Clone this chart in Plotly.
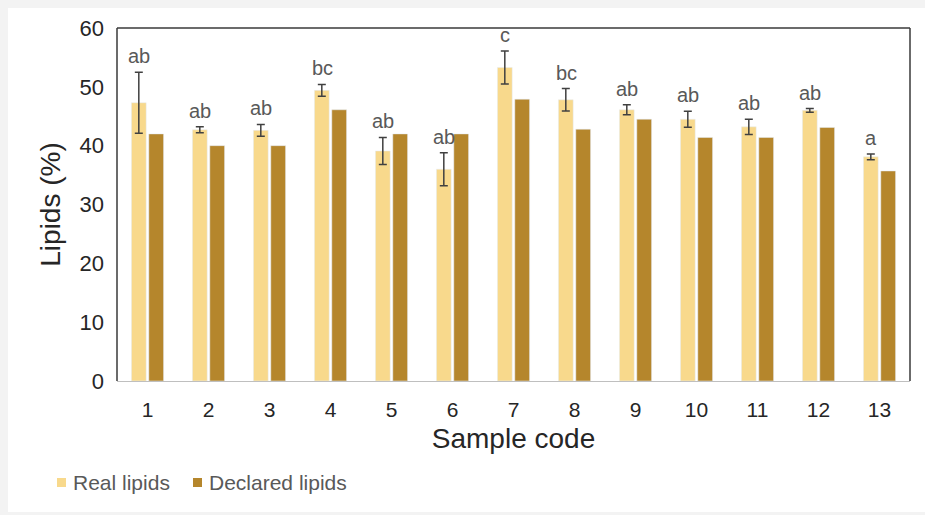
import plotly.graph_objects as go

# Lipid content per sample: measured (mean ± SD) vs. value declared on the label
samples = ["1", "2", "3", "4", "5", "6", "7", "8", "9", "10", "11", "12", "13"]
real_lipids = [47.3, 42.7, 42.6, 49.4, 39.1, 36.0, 53.3, 47.8, 46.1, 44.5, 43.2, 46.0, 38.1]
real_sd = [5.2, 0.5, 1.0, 1.0, 2.3, 2.8, 2.8, 1.9, 0.85, 1.35, 1.3, 0.3, 0.5]
declared_lipids = [42.0, 40.0, 40.0, 46.1, 42.0, 42.0, 47.9, 42.8, 44.5, 41.4, 41.4, 43.1, 35.7]
groups = ["ab", "ab", "ab", "bc", "ab", "ab", "c", "bc", "ab", "ab", "ab", "ab", "a"]
y_ticks = [0, 10, 20, 30, 40, 50, 60]

FONT = "Liberation Sans, Arial, sans-serif"
LIGHT = "#F8D98C"
DARK = "#B5862C"
GREY_TXT = "#595959"
FRAME = "#3a3a3a"

# plot area in pixels (used to place the legend and outer panel in paper units)
W, H = 925, 515
ML, MR, MT, MB = 117, 15, 28, 134
PW, PH = W - ML - MR, H - MT - MB


def px_x(px):
    return (px - ML) / PW


def px_y(py):
    return (H - MB - py) / PH


fig = go.Figure()
fig.add_trace(go.Bar(
    name="Real lipids", x=samples, y=real_lipids, marker_color=LIGHT,
    error_y=dict(type="data", array=real_sd, visible=True,
                 color="#404040", thickness=1.5, width=4),
))
fig.add_trace(go.Bar(
    name="Declared lipids", x=samples, y=declared_lipids, marker_color=DARK,
))

# significance letters above each measured bar
for i, (v, e, g) in enumerate(zip(real_lipids, real_sd, groups)):
    fig.add_annotation(
        x=i, y=v + e, text=g, showarrow=False, xref="x", yref="y",
        xshift=-8.5, yshift=3, yanchor="bottom",
        font=dict(family=FONT, size=20, color=GREY_TXT),
    )

# white panel with a faint grey margin round the figure
fig.add_shape(type="rect", xref="paper", yref="paper", layer="below",
              x0=px_x(8), x1=px_x(W + 5), y0=px_y(512), y1=px_y(8),
              fillcolor="white", line=dict(width=0))

# plot frame: dark on top, left and right
for x0, x1, y0, y1 in [(0, 1, 1, 1), (1, 1, 0, 1), (0, 0, 0, 1)]:
    fig.add_shape(type="line", xref="paper", yref="paper", x0=x0, x1=x1, y0=y0, y1=y1,
                  line=dict(color=FRAME, width=1.5))

# legend drawn as swatches + labels
legend_items = [("Real lipids", LIGHT, 57), ("Declared lipids", DARK, 193)]
for name, col, x_px in legend_items:
    fig.add_shape(type="rect", xref="paper", yref="paper",
                  x0=px_x(x_px), x1=px_x(x_px + 9), y0=px_y(487), y1=px_y(478),
                  fillcolor=col, line=dict(width=0))
    fig.add_annotation(x=px_x(x_px + 14), y=px_y(482), xref="paper", yref="paper",
                       text=name, showarrow=False, xanchor="left", yanchor="middle",
                       font=dict(family=FONT, size=21, color=GREY_TXT))

fig.update_layout(
    width=W, height=H,
    margin=dict(l=ML, r=MR, t=MT, b=MB),
    paper_bgcolor="#f3f3f3", plot_bgcolor="white",
    barmode="group", bargap=0.43, bargroupgap=0.15,
    font=dict(family=FONT, color="#262626"),
    showlegend=False,
    xaxis=dict(
        type="category",
        title=dict(text="Sample code", font=dict(size=28, color="#262626"), standoff=8),
        tickfont=dict(size=21, color="#262626"), ticklabelstandoff=10,
        showline=True, linecolor="#bfbfbf", linewidth=1,
        showgrid=False, ticks="",
    ),
    yaxis=dict(
        title=dict(text="Lipids (%)", font=dict(size=28, color="#262626"), standoff=10),
        range=[0, 60], tickvals=y_ticks,
        tickfont=dict(size=22, color="#262626"),
        showgrid=False, zeroline=False, ticks="", ticklabelstandoff=12,
    ),
)

fig.write_html("out.html")
